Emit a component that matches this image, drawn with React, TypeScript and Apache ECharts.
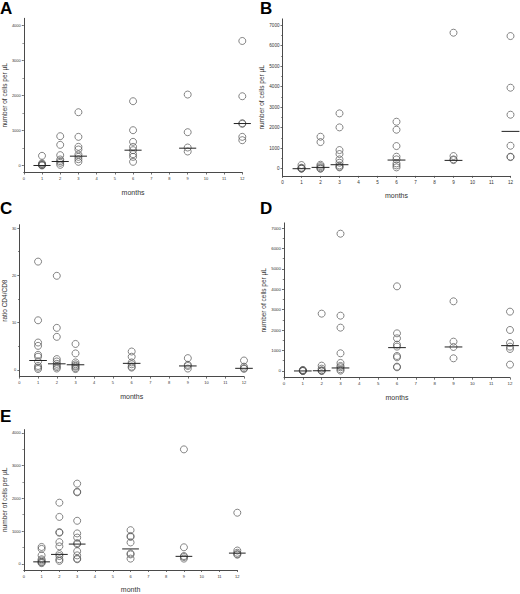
import React, { useEffect, useRef } from "react";
import * as echarts from "echarts";

const months = [1, 2, 3, 6, 9, 12];
const monthTicks = [0, 1, 2, 3, 4, 5, 6, 7, 8, 9, 10, 11, 12];

// Panel A: number of cells per µL
const aValues = [
  [276, 60, 40, 20, 10, 0],
  [836, 589, 295, 171, 124, 76, 19],
  [1520, 817, 532, 456, 314, 247, 180, 105],
  [1834, 1007, 675, 532, 437, 323, 247, 105],
  [2024, 950, 513, 399],
  [3553, 1976, 1207, 1188, 817, 722],
];
const aMedians = [0, 114, 266, 437, 494, 1197];

// Panel B
const bValues = [
  [180, 50, 20, 10, 0],
  [1559, 1299, 195, 130, 65, 16, 0],
  [2696, 2014, 909, 715, 455, 292, 162, 97, 65],
  [2290, 1900, 1104, 585, 455, 260, 162, 65],
  [6627, 617, 455, 422],
  [6464, 3947, 2631, 1120, 585, 568],
];
const bMedians = [0, 65, 195, 422, 406, 1819];

// Panel C: ratio CD4/CD8
const cValues = [
  [22.9, 10.5, 5.8, 5.1, 3.2, 2.8, 1.8, 0.85, 0.5, 0.2],
  [19.9, 8.9, 7.0, 2.3, 1.8, 1.3, 0.9, 0.6, 0.3],
  [5.5, 3.5, 1.6, 1.2, 0.9, 0.7, 0.4, 0.2],
  [3.9, 2.8, 1.6, 1.2, 0.7, 0.5],
  [2.5, 1.1, 0.85, 0.3],
  [2.0, 0.7, 0.35, 0.25],
];
const cMedians = [2.0, 1.3, 1.1, 1.4, 0.85, 0.35];

// Panel D
const dValues = [
  [50, 30, 10, 0, 0],
  [2806, 261, 114, 33, 10, 0],
  [6721, 2708, 2121, 865, 392, 245, 180, 82, 16],
  [4144, 1843, 1599, 1289, 1191, 734, 669, 212, 180],
  [3410, 1436, 1175, 620],
  [2904, 2007, 1370, 1191, 1077, 310],
];
const dMedians = [0, 10, 147, 1142, 1175, 1240];

// Panel E
const eValues = [
  [514, 454, 257, 138, 99, 59, 40, 20],
  [1867, 1432, 968, 948, 662, 533, 296, 237, 138, 89],
  [2449, 2202, 2183, 1314, 928, 800, 632, 602, 385, 257, 158, 138],
  [1027, 849, 820, 652, 316, 286, 158],
  [3496, 504, 237, 207, 158],
  [1560, 405, 336, 296, 277],
];
const eMedians = [59, 286, 602, 454, 227, 326];

const cellTicks4000 = [0, 1000, 2000, 3000, 4000];
const cellMinor4000 = [500, 1500, 2500, 3500];
const cellTicks7000 = [0, 1000, 2000, 3000, 4000, 5000, 6000, 7000];
const cellMinor7000 = [500, 1500, 2500, 3500, 4500, 5500, 6500];
const ratioTicks = [0, 10, 20, 30];
const ratioMinor = [5, 15, 25];

const FONT = "Liberation Sans, Arial, Helvetica, sans-serif";

type Panel = {
  letter: string;
  values: number[][];
  medians: number[];
  grid: { left: number; top: number; width: number; height: number };
  yMin: number;
  yMax: number;
  ticks: number[];
  minor: number[];
  yName: string;
  xName: string;
  yNameGap: number;
  labelSize: number;
  letterPos: [number, number];
};

const panels: Panel[] = [
  {
    letter: "A", values: aValues, medians: aMedians,
    grid: { left: 22.3, top: 18.3, width: 220, height: 154.2 },
    yMin: -200, yMax: 4200, ticks: cellTicks4000, minor: cellMinor4000,
    yName: "number of cells per µL", xName: "months", yNameGap: 15, labelSize: 4,
    letterPos: [0, 0],
  },
  {
    letter: "B", values: bValues, medians: bMedians,
    grid: { left: 282.5, top: 18.9, width: 228, height: 157 },
    yMin: -350, yMax: 7300, ticks: cellTicks7000, minor: cellMinor7000,
    yName: "number of cells per µL", xName: "months", yNameGap: 15.5, labelSize: 4.6,
    letterPos: [260, 0],
  },
  {
    letter: "C", values: cValues, medians: cMedians,
    grid: { left: 16.7, top: 224.7, width: 227.3, height: 151.9 },
    yMin: -1.4, yMax: 30.7, ticks: ratioTicks, minor: ratioMinor,
    yName: "ratio CD4/CD8", xName: "months", yNameGap: 8.5, labelSize: 4,
    letterPos: [0, 200],
  },
  {
    letter: "D", values: dValues, medians: dMedians,
    grid: { left: 284, top: 222.9, width: 226, height: 154.8 },
    yMin: -330, yMax: 7250, ticks: cellTicks7000, minor: cellMinor7000,
    yName: "number of cells per µL", xName: "months", yNameGap: 17, labelSize: 4.4,
    letterPos: [260, 200],
  },
  {
    letter: "E", values: eValues, medians: eMedians,
    grid: { left: 22.3, top: 429.6, width: 215, height: 144.8 },
    yMin: -190, yMax: 4100, ticks: cellTicks4000, minor: cellMinor4000,
    yName: "number of cells per µL", xName: "month", yNameGap: 14.5, labelSize: 4,
    letterPos: [0, 408],
  },
];

const AXIS_COLOR = "#4a4a4a";
const plain = (v: number) => String(v);

function buildOption() {
  const grid: any[] = [];
  const xAxis: any[] = [];
  const yAxis: any[] = [];
  const series: any[] = [];
  const graphic: any[] = [];

  panels.forEach((p, i) => {
    grid.push({ ...p.grid, containLabel: false });
    xAxis.push({
      type: "value",
      gridIndex: i,
      min: 0,
      max: 12,
      interval: 1,
      axisLine: { show: true, onZero: false, lineStyle: { color: AXIS_COLOR, width: 1 } },
      axisTick: { show: true, length: 2, lineStyle: { color: AXIS_COLOR, width: 0.8 } },
      axisLabel: {
        show: true, fontSize: p.labelSize, margin: 4, color: "#333", fontFamily: FONT,
        customValues: monthTicks, formatter: plain,
      },
      splitLine: { show: false },
      name: p.xName,
      nameLocation: "middle",
      nameGap: 16,
      nameTextStyle: { fontSize: 7, color: "#333", fontFamily: FONT },
    });
    yAxis.push({
      type: "value",
      gridIndex: i,
      min: p.yMin,
      max: p.yMax,
      axisLine: { show: true, onZero: false, lineStyle: { color: AXIS_COLOR, width: 1 } },
      axisTick: { show: true, length: 2, customValues: p.ticks, lineStyle: { color: AXIS_COLOR, width: 0.8 } },
      axisLabel: {
        show: true, fontSize: p.labelSize, margin: 3, color: "#333", fontFamily: FONT,
        customValues: p.ticks, formatter: plain,
      },
      splitLine: { show: false },
      name: p.yName,
      nameLocation: "middle",
      nameRotate: 90,
      nameGap: p.yNameGap,
      nameTextStyle: { fontSize: 6.5, color: "#333", fontFamily: FONT },
    });
    const minorIdx = yAxis.length;
    yAxis.push({
      type: "value",
      gridIndex: i,
      min: p.yMin,
      max: p.yMax,
      position: "left",
      axisLine: { show: false, onZero: false },
      axisTick: { show: true, length: 1.3, customValues: p.minor, lineStyle: { color: AXIS_COLOR, width: 0.7 } },
      axisLabel: { show: false, customValues: p.minor },
      splitLine: { show: false },
    });
    const yIdx = minorIdx - 1;

    const pts: number[][] = [];
    months.forEach((m, k) => {
      p.values[k].forEach((v) => pts.push([m, v]));
    });
    series.push({
      type: "scatter",
      xAxisIndex: i,
      yAxisIndex: yIdx,
      data: pts,
      symbol: "circle",
      symbolSize: 7,
      itemStyle: { color: "rgba(255,255,255,0)", borderColor: "#555", borderWidth: 0.9 },
      silent: true,
      z: 2,
    });
    series.push({
      type: "custom",
      xAxisIndex: i,
      yAxisIndex: yIdx,
      data: months.map((m, k) => [m, p.medians[k]]),
      renderItem: (params: any, api: any) => {
        const m = api.value(0);
        const v = api.value(1);
        const p1 = api.coord([m - 0.47, v]);
        const p2 = api.coord([m + 0.47, v]);
        return {
          type: "line",
          shape: { x1: p1[0], y1: p1[1], x2: p2[0], y2: p2[1] },
          style: { stroke: "#222", lineWidth: 1 },
        };
      },
      silent: true,
      z: 3,
    });

    graphic.push({
      type: "text",
      left: p.letterPos[0],
      top: p.letterPos[1],
      style: {
        text: p.letter,
        fontSize: 17,
        fontWeight: "bold",
        fontFamily: FONT,
        fill: "#000",
      },
    });
  });

  return {
    animation: false,
    backgroundColor: "#fff",
    grid,
    xAxis,
    yAxis,
    series,
    graphic,
  };
}

export default function App() {
  const ref = useRef<HTMLDivElement>(null);
  useEffect(() => {
    document.body.style.margin = "0";
    if (!ref.current) return;
    const chart = echarts.init(ref.current, undefined, { renderer: "svg" });
    chart.setOption(buildOption() as any);
    return () => chart.dispose();
  }, []);
  return <div ref={ref} style={{ width: 520, height: 594 }} />;
}
